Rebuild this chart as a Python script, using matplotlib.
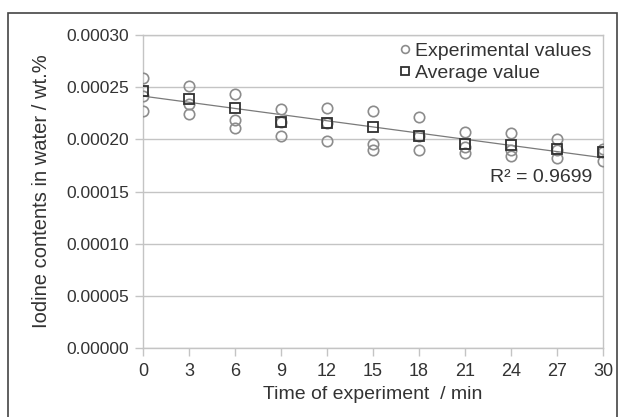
import numpy as np
import matplotlib
matplotlib.use("Agg")
import matplotlib.pyplot as plt
from matplotlib.patches import Rectangle

plt.rcParams['font.family'] = ['Liberation Sans', 'DejaVu Sans']

# time of experiment, min
times = [0, 3, 6, 9, 12, 15, 18, 21, 24, 27, 30]
# experimental values (three readings per time)
exp_high = [0.000259, 0.000251, 0.000243, 0.000229, 0.000230, 0.000227,
            0.000221, 0.000207, 0.000206, 0.000200, 0.000191]
exp_mid = [0.000242, 0.000234, 0.000219, 0.000217, 0.000216, 0.000196,
           0.000203, 0.000193, 0.000190, 0.000190, 0.000188]
exp_low = [0.000227, 0.000224, 0.000211, 0.000203, 0.000198, 0.000190,
           0.000190, 0.000187, 0.000184, 0.000182, 0.000179]
# average values
avg = [0.0002465, 0.000239, 0.0002296, 0.000217, 0.0002158, 0.0002114,
       0.0002033, 0.0001954, 0.000195, 0.0001903, 0.0001874]
r2_text = "R² = 0.9699"

fig = plt.figure(figsize=(6.24, 4.17), dpi=100)
ax = fig.add_axes([143/624, 1 - 348/417, (603-143)/624, (348-35)/417])

grid_c = "#c4c4c4"
txt_c = "#333333"
ax.set_axisbelow(True)
ax.yaxis.grid(True, color=grid_c, linewidth=1)

# trendline through averages
k, b = np.polyfit(times, avg, 1)
tx = np.array([0, 30])
ax.plot(tx, k * tx + b, color="#7a7a7a", linewidth=0.9, zorder=2)

circ = dict(marker="o", linestyle="none", markersize=7.5, markerfacecolor="none",
            markeredgecolor="#8c8c8c", markeredgewidth=1.2, zorder=3)
ax.plot(times, exp_high, label="Experimental values", **circ)
ax.plot(times, exp_mid, **circ)
ax.plot(times, exp_low, **circ)
ax.plot(times, avg, marker="s", linestyle="none", markersize=7.5,
        markerfacecolor="none", markeredgecolor="#303030", markeredgewidth=1.3,
        label="Average value", zorder=4)

ax.set_xlim(0, 30)
ax.set_ylim(0, 0.0003)
ax.set_xticks(times)
ax.set_yticks(np.arange(0, 0.00030001, 0.00005))
ax.yaxis.set_major_formatter(matplotlib.ticker.FormatStrFormatter("%.5f"))

for s in ax.spines.values():
    s.set_color(grid_c)
    s.set_linewidth(1)
ax.tick_params(colors=grid_c, labelcolor=txt_c, length=6, width=1)
ax.tick_params(axis="x", labelsize=13, pad=5)
ax.tick_params(axis="y", labelsize=12.5, pad=4)

ax.set_xlabel("Time of experiment  / min", fontsize=14, color=txt_c, labelpad=4)
ax.set_ylabel("Iodine contents in water / wt.%", fontsize=14.5, color=txt_c, labelpad=11)

ax.text(29.3, 0.000163, r2_text, ha="right", va="center", fontsize=14, color=txt_c)

leg = ax.legend(loc="upper right", bbox_to_anchor=(1.0, 1.015), frameon=False,
                fontsize=14, handlelength=0.4, handletextpad=0.3, labelspacing=0.25,
                markerscale=0.75, borderaxespad=0.2)
for t in leg.get_texts():
    t.set_color(txt_c)

# outer frame
fig.patches.append(Rectangle((8/624, -0.1), (617-8)/624, 1.1 - 13/417,
                             transform=fig.transFigure, fill=False,
                             edgecolor="#444444", linewidth=1.2))

fig.savefig("out.png", dpi=100)
